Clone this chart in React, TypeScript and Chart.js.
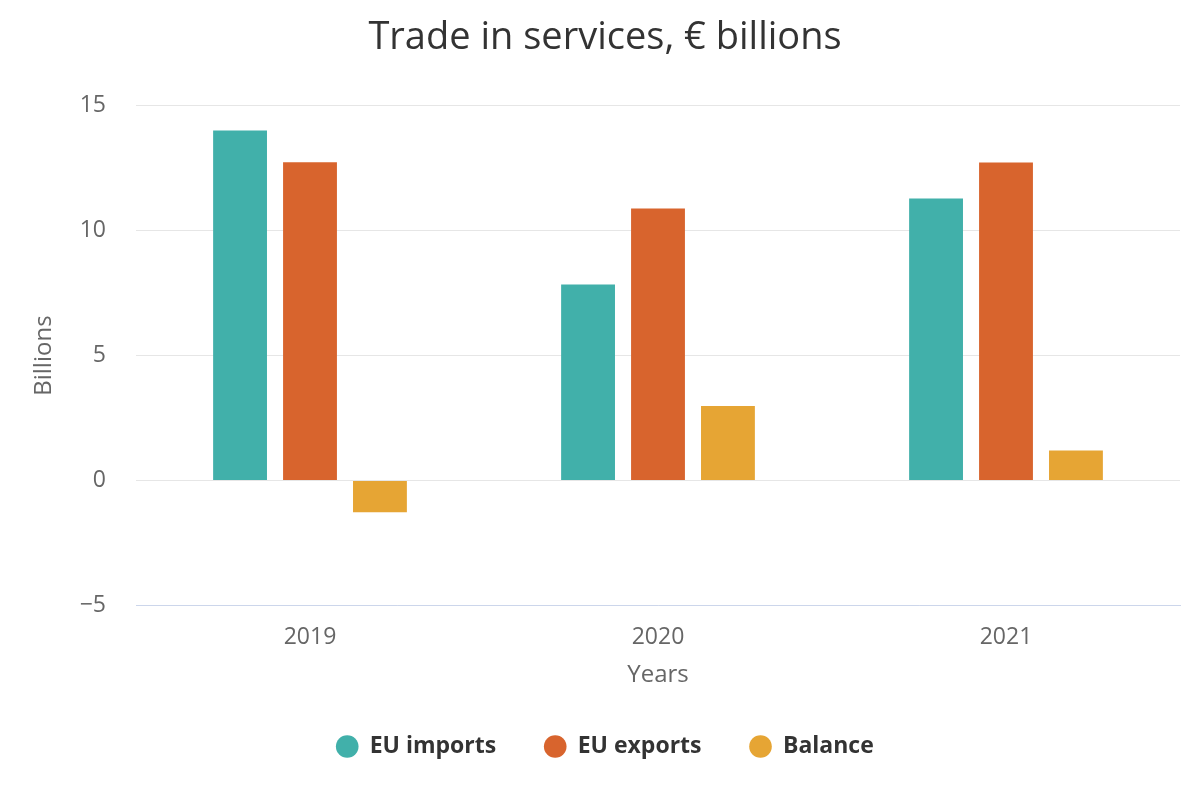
import React, { useEffect, useRef } from "react";
import { Chart, registerables } from "chart.js";

Chart.register(...registerables);

const categories = ["2019", "2020", "2021"];
const euImports = [14.0, 7.84, 11.28];
const euExports = [12.73, 10.88, 12.72];
const balance = [-1.27, 2.98, 1.2];
const seriesNames = ["EU imports", "EU exports", "Balance"];
const seriesColors = ["#41b0aa", "#d8642d", "#e6a534"];
const titleText = "Trade in services, € billions";
const xTitle = "Years";
const yTitle = "Billions";
const yMin = -5;
const yMax = 15;
const yStep = 5;

const FONT = "'Open Sans', 'DejaVu Sans', sans-serif";

export default function App() {
  const ref = useRef<HTMLCanvasElement | null>(null);

  useEffect(() => {
    if (!ref.current) return;
    const values = [euImports, euExports, balance];
    const chart = new Chart(ref.current, {
      type: "bar",
      data: {
        labels: categories,
        datasets: values.map((d, i) => ({
          label: seriesNames[i],
          data: d,
          backgroundColor: seriesColors[i],
          borderColor: seriesColors[i],
          borderWidth: 0,
          categoryPercentage: 0.603,
          barPercentage: 0.77,
        })),
      },
      options: {
        responsive: true,
        maintainAspectRatio: false,
        animation: false,
        layout: { padding: { left: 30, right: 20, top: 0, bottom: 32 } },
        plugins: {
          title: {
            display: true,
            text: titleText,
            color: "#333333",
            font: { family: FONT, size: 38, weight: "normal" },
            padding: { top: 15, bottom: 45 },
          },
          legend: {
            position: "bottom",
            labels: {
              usePointStyle: true,
              pointStyle: "circle",
              boxHeight: 16,
              boxWidth: 22,
              color: "#333333",
              font: { family: FONT, size: 23, weight: "bold" },
              padding: 48,
            },
          },
          tooltip: { enabled: false },
        },
        scales: {
          x: {
            grid: { display: false },
            border: { display: true, color: "#ccd6eb", width: 1 },
            ticks: { color: "#666666", font: { family: FONT, size: 23 }, padding: 10 },
            title: {
              display: true,
              text: xTitle,
              color: "#666666",
              font: { family: FONT, size: 24 },
              padding: { top: 0, bottom: -3 },
            },
          },
          y: {
            min: yMin,
            max: yMax,
            afterFit: (scale: any) => {
              scale.width = 106;
            },
            grid: { color: "#e6e6e6", drawTicks: false },
            border: { display: false },
            ticks: {
              stepSize: yStep,
              color: "#666666",
              font: { family: FONT, size: 23 },
              padding: 30,
              callback: (v: any) => String(v).replace("-", "\u2212"),
            },
            title: {
              display: true,
              text: yTitle,
              color: "#666666",
              font: { family: FONT, size: 24 },
              padding: { top: 0, bottom: 0 },
            },
          },
        },
      },
    });
    return () => chart.destroy();
  }, []);

  return (
    <div style={{ position: "fixed", left: 0, top: 0, width: 1200, height: 800, background: "#fff" }}>
      <canvas ref={ref} />
    </div>
  );
}
